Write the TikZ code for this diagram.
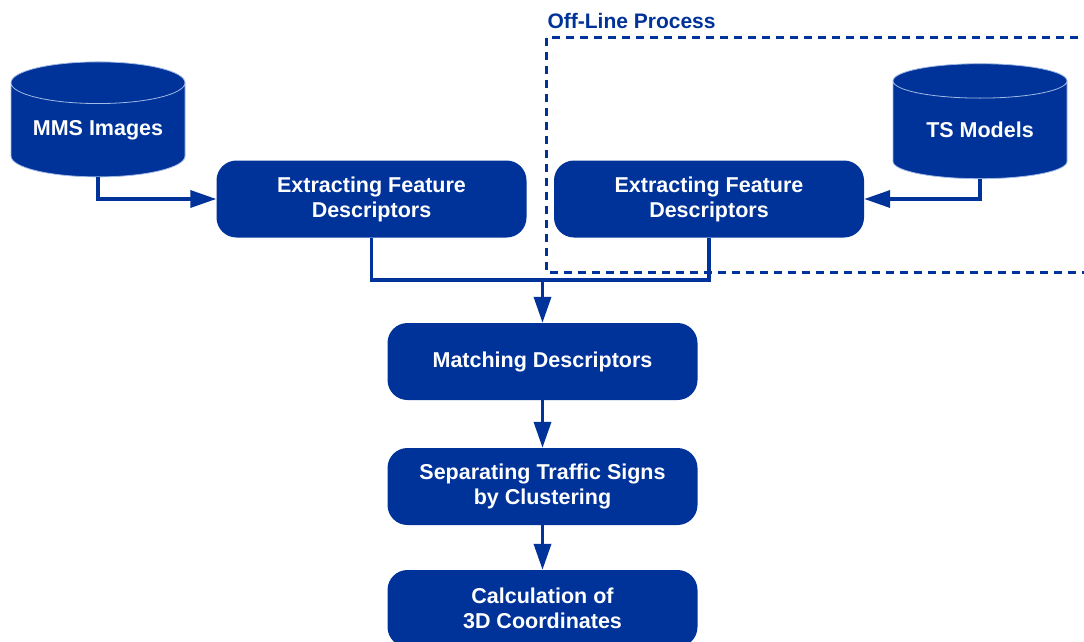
\documentclass[tikz,border=0pt]{standalone}
\usepackage{fontspec}
\setmainfont{Liberation Sans}
\usepackage{tikz}
\usetikzlibrary{arrows.meta, shapes.geometric}

\definecolor{procblue}{RGB}{0,51,153}
\definecolor{rimblue}{RGB}{160,185,230}

\tikzset{
  procbox/.style={rectangle, rounded corners=20pt, fill=procblue, text=white,
    font=\fontsize{21.5}{25}\selectfont\bfseries, align=center,
    minimum width=310pt, minimum height=77pt, inner sep=0pt},
  database/.style={cylinder, shape border rotate=90, aspect=0.32,
    fill=procblue, draw=rimblue, line width=0.8pt, text=white,
    font=\fontsize{21.5}{25}\selectfont\bfseries,
    minimum width=174pt, minimum height=115pt, inner sep=0pt},
  flow/.style={procblue, line width=3.5pt,
    -{Triangle[length=26pt, width=17pt]}},
  joinline/.style={procblue, line width=3.5pt},
  offline/.style={procblue, line width=3pt, dash pattern=on 8pt off 6pt}
}

\begin{document}
\begin{tikzpicture}[x=1pt, y=-1pt]
\useasboundingbox (0,0) rectangle (1084,642);
\clip (0,0) rectangle (1084,642);
\fill [white] (0,0) rectangle (1084,642);

% off-line part
\draw [offline] (546,38) rectangle (1110,272);
\node [anchor=west, procblue, font=\fontsize{21}{24}\selectfont\bfseries] (offlbl) at (544,21) {Off-Line Process};

% data sources
\node [database] (mms) at (98,130) {MMS Images};
\node [database] (ts) at (980,130) {TS Models};

% processing steps
\node [procbox] (ext1) at (371.5,199) {Extracting Feature\\Descriptors};
\node [procbox] (ext2) at (709,199) {Extracting Feature\\Descriptors};
\node [procbox] (match) at (542.5,361.5) {Matching Descriptors};
\node [procbox] (sep) at (542.5,486.5) {Separating Traffic Signs\\by Clustering};
\node [procbox] (calc) at (542.5,608.5) {Calculation of\\3D Coordinates};

% connectors
\coordinate (join) at (542.5,280);
\draw [flow] (mms.south) |- (ext1.west);
\draw [flow] (ts.south) |- (ext2.east);
\draw [joinline] (ext1.south) |- (join) -| (ext2.south);
\draw [flow] (join) -- (match.north);
\draw [flow] (match) -- (sep);
\draw [flow] (sep) -- (calc);
\end{tikzpicture}
\end{document}
